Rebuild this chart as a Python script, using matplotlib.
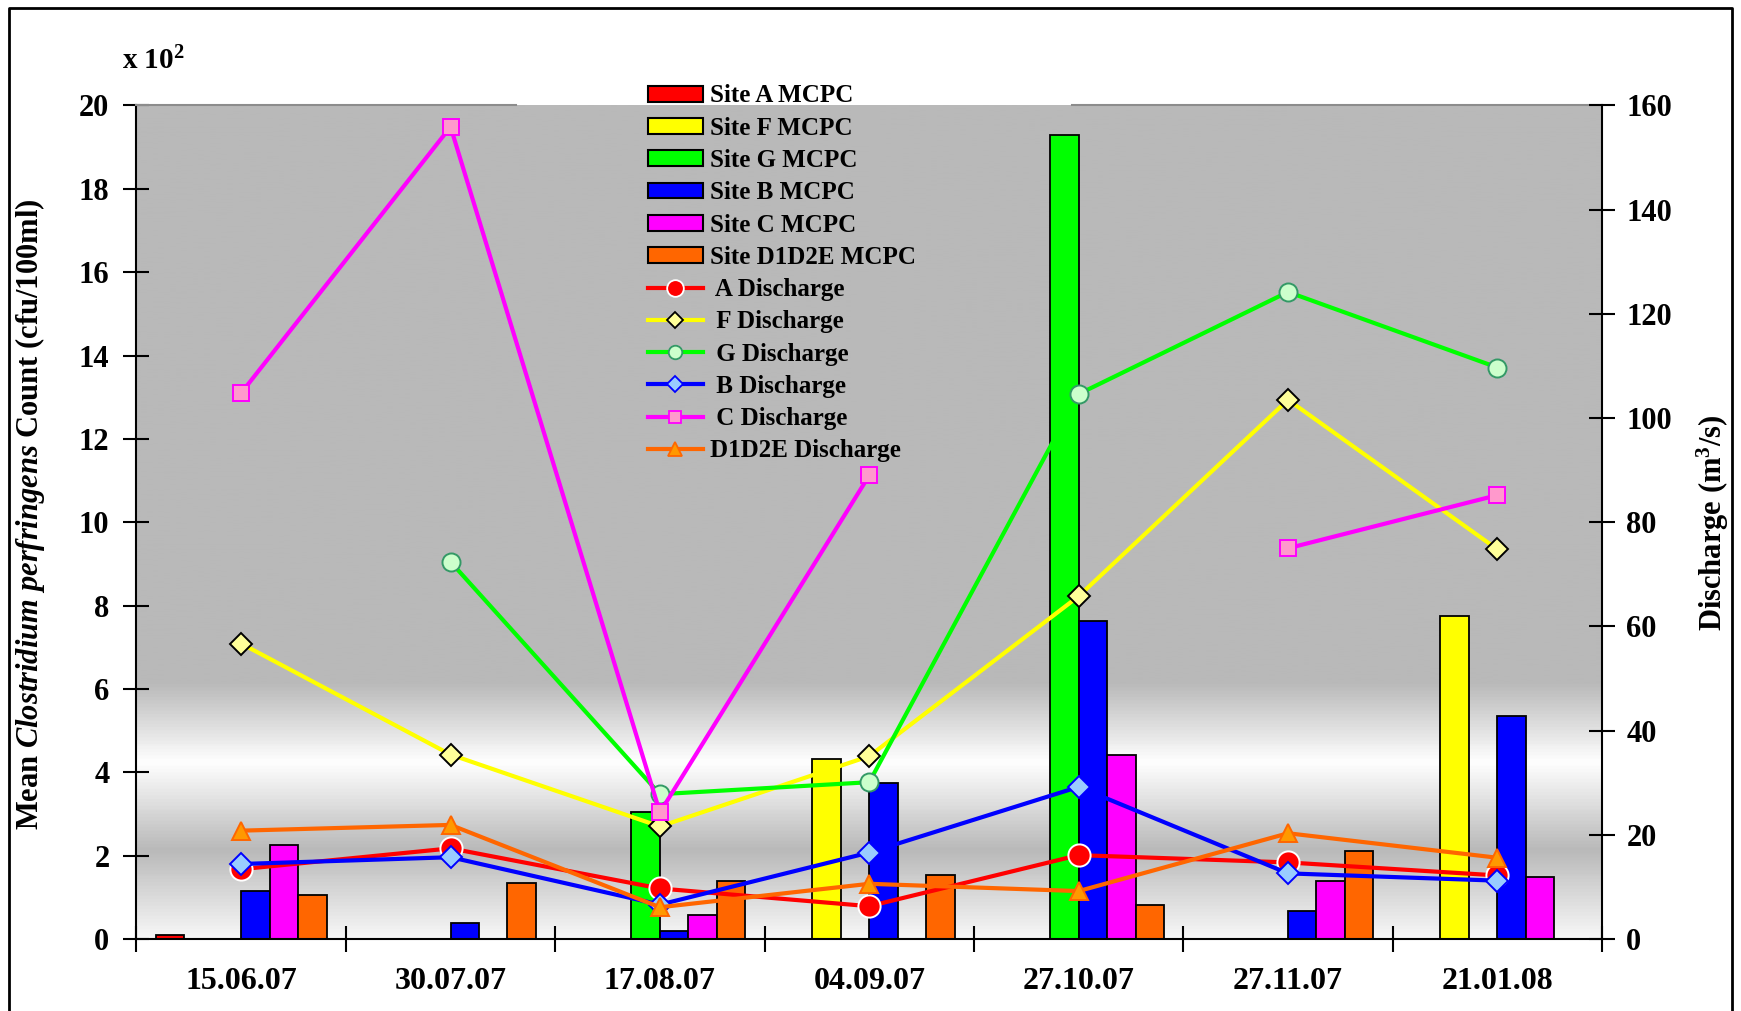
import matplotlib
matplotlib.use('Agg')
import matplotlib.pyplot as plt
import numpy as np
from matplotlib.colors import LinearSegmentedColormap
from matplotlib.patches import Patch
from matplotlib.lines import Line2D

# Sampling dates and mean counts (x 10^2 cfu/100ml) per site
dates = ['15.06.07', '30.07.07', '17.08.07', '04.09.07', '27.10.07', '27.11.07', '21.01.08']

site_a_mcpc = [0.1, 0, 0, 0, 0, 0, 0]
site_f_mcpc = [0, 0, 0, 4.32, 0, 0, 7.75]
site_g_mcpc = [0, 0, 3.04, 0, 19.3, 0, 0]
site_b_mcpc = [1.15, 0.39, 0.2, 3.74, 7.64, 0.67, 5.35]
site_c_mcpc = [2.26, 0, 0.58, 0, 4.42, 1.39, 1.49]
site_d_mcpc = [1.06, 1.34, 1.4, 1.54, 0.82, 2.12, 0]

# Discharge (m3/s)
a_discharge = [13.4, 17.4, 9.7, 6.3, 16.1, 14.7, 12.2]
f_discharge = [56.7, 35.4, 21.6, 35.1, 65.8, 103.5, 74.8]
g_discharge = [np.nan, 72.4, 27.8, 30.1, 104.6, 124.2, 109.7]
b_discharge = [14.4, 15.7, 6.6, 16.6, 29.2, 12.6, 11.2]
c_discharge = [104.8, 155.9, 24.3, 89.0, np.nan, 75.0, 85.2]
d_discharge = [20.8, 21.9, 6.1, 10.6, 9.2, 20.3, 15.6]

bar_series = [
    ('Site A MCPC', site_a_mcpc, '#ff0000'),
    ('Site F MCPC', site_f_mcpc, '#ffff00'),
    ('Site G MCPC', site_g_mcpc, '#00ff00'),
    ('Site B MCPC', site_b_mcpc, '#0000ff'),
    ('Site C MCPC', site_c_mcpc, '#ff00ff'),
    ('Site D1D2E MCPC', site_d_mcpc, '#ff6600'),
]

# label, values, line colour, marker, face, edge, size
line_series = [
    (' A Discharge', a_discharge, '#ff0000', 'o', '#ff0000', 'white', 16),
    (' F Discharge', f_discharge, '#ffff00', 'D', '#ffff99', 'black', 11),
    (' G Discharge', g_discharge, '#00ff00', 'o', '#ccffcc', '#339966', 13),
    (' B Discharge', b_discharge, '#0000ff', 'D', '#99ccff', '#0000ff', 11),
    (' C Discharge', c_discharge, '#ff00ff', 's', '#ff99cc', '#ff00ff', 11),
    ('D1D2E Discharge', d_discharge, '#ff6600', '^', '#ff9900', '#ff6600', 13),
]

plt.rcParams['font.family'] = ['Liberation Serif', 'DejaVu Serif']
plt.rcParams['font.weight'] = 'bold'
plt.rcParams['mathtext.fontset'] = 'custom'
plt.rcParams['mathtext.rm'] = 'Liberation Serif:bold'
plt.rcParams['mathtext.bf'] = 'Liberation Serif:bold'
plt.rcParams['mathtext.it'] = 'Liberation Serif:italic:bold'

fig = plt.figure(figsize=(17.41, 10.11), dpi=100)
ax = fig.add_axes([0.0784, 0.0712, 0.8418, 0.8245])

# Grey gradient background of the plot area
grad = LinearSegmentedColormap.from_list('bg', [
    (0.0, '#f7f7f7'), (2.1 / 20, '#b9b9b9'), (4.2 / 20, '#ffffff'),
    (6.1 / 20, '#b9b9b9'), (1.0, '#b9b9b9')])
yy = np.linspace(0, 1, 500).reshape(-1, 1)
ax.imshow(yy, extent=(-0.5, 6.5, 0, 20), aspect='auto', origin='lower',
          cmap=grad, vmin=0, vmax=1, zorder=0)

x = np.arange(len(dates))
w = 0.136
for i, (label, vals, color) in enumerate(bar_series):
    ax.bar(x + (i - 2.5) * w, vals, width=w, color=color, edgecolor='black',
           linewidth=1.3, zorder=2)

ax.set_xlim(-0.5, 6.5)
ax.set_ylim(0, 20)
ax.set_yticks(np.arange(0, 21, 2))
ax.set_xticks(np.arange(-0.5, 7, 1))
ax.set_xticklabels([])
ax.set_xticks(x, minor=True)
ax.set_xticklabels(dates, minor=True)
ax.tick_params(axis='x', which='major', direction='inout', length=19, width=1.5)
ax.tick_params(axis='x', which='minor', length=0, pad=20, labelsize=23)
ax.tick_params(axis='y', direction='inout', length=19, width=1.5, pad=10, labelsize=22)
for s in ['top', 'right']:
    ax.spines[s].set_visible(False)
ax.spines['left'].set_linewidth(1.5)
ax.spines['bottom'].set_linewidth(1.5)

# gray top border of the plot area (broken behind the legend)
ax.plot([0, 0.259], [1, 1], transform=ax.transAxes, color='#8c8c8c', lw=1.5, clip_on=False, zorder=3)
ax.plot([0.638, 1], [1, 1], transform=ax.transAxes, color='#8c8c8c', lw=1.5, clip_on=False, zorder=3)

ax.set_ylabel(r'Mean $\mathit{Clostridium\ perfringens}$ Count (cfu/100ml)', fontsize=22, fontweight='bold')
ax.yaxis.set_label_coords(-0.061, 0.51)

ax2 = ax.twinx()
for label, vals, lc, mk, fc, ec, ms in line_series:
    ax2.plot(x, vals, color=lc, lw=3, marker=mk, markersize=ms,
             markerfacecolor=fc, markeredgecolor=ec, markeredgewidth=1.4)
ax2.set_ylim(0, 160)
ax2.set_yticks(np.arange(0, 161, 20))
ax2.tick_params(axis='y', direction='inout', length=19, width=1.5, pad=8, labelsize=22)
for s in ['top', 'left', 'bottom']:
    ax2.spines[s].set_visible(False)
ax2.spines['right'].set_linewidth(1.5)
ax2.set_ylabel(r'Discharge (m$^{3}$/s)', fontsize=22, fontweight='bold')
ax2.yaxis.set_label_coords(1.063, 0.5)

fig.text(122 / 1741, 1 - 61 / 1011, r'x 10$^{2}$', fontsize=21, fontweight='bold', va='center')

# Legend
handles = [Patch(facecolor=c, edgecolor='black', linewidth=1.5) for _, _, c in bar_series]
labels = [lab for lab, _, _ in bar_series]
for label, vals, lc, mk, fc, ec, ms in line_series:
    handles.append(Line2D([], [], color=lc, lw=3, marker=mk, markersize=ms * 0.75,
                          markerfacecolor=fc, markeredgecolor=ec, markeredgewidth=1.3))
    labels.append(label)
fig.legend(handles, labels, loc='upper left', bbox_to_anchor=(635 / 1741, 1 - 72 / 1011),
           frameon=False, borderpad=0, fontsize=18, handlelength=2.2, handleheight=0.6,
           handletextpad=0.3, labelspacing=0.37)

# outer frame
x0, x1, yt = 9 / 1741, 1732 / 1741, 1 - 8 / 1011
fig.add_artist(Line2D([x0, x0, x1, x1], [-0.01, yt, yt, -0.01], transform=fig.transFigure,
                      color='black', lw=2))

fig.savefig('out.png', dpi=100)
